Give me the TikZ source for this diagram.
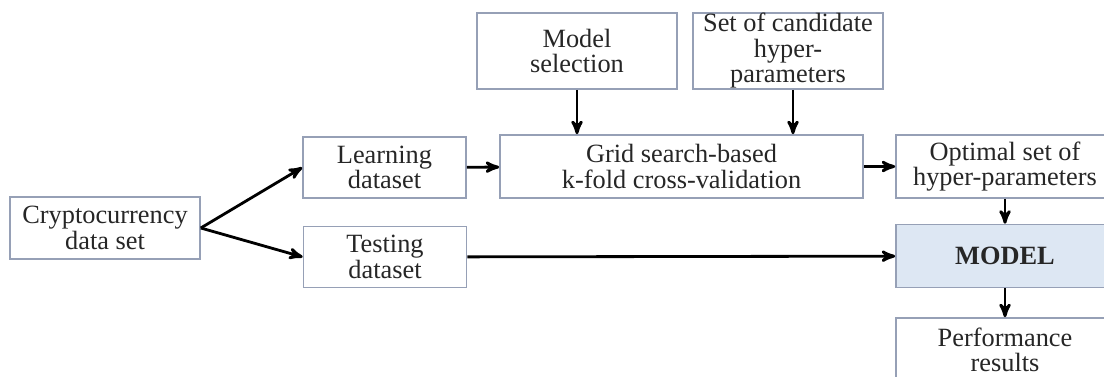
\documentclass[tikz,border=0pt]{standalone}
\usepackage{fontspec}
\setmainfont{Liberation Serif}
\usepackage{tikz}
\usetikzlibrary{arrows}
\definecolor{boxline}{RGB}{150,160,182}
\definecolor{modelblue}{RGB}{221,231,243}
\tikzset{
  flownode/.style = {rectangle, draw=boxline, line width=0.9pt, align=center,
    inner sep=0pt, text=black!85, font=\fontsize{15}{14.5}\selectfont},
  flow_s/.style = {flownode, minimum width=163*0.02cm, minimum height=61*0.02cm},% petite boite
  flow_w/.style = {flownode, minimum width=218*0.02cm, minimum height=63*0.02cm},% boite de droite
  flow_m/.style = {flow_w, fill=modelblue, font=\fontsize{15}{14.5}\selectfont\bfseries},% modele
}
\begin{document}
\begin{tikzpicture}[x=0.02cm,y=-0.02cm,->,>=stealth',line width=1.6pt]
  \useasboundingbox (0,0) rectangle (1104,377);

  \node[flownode, minimum width=190*0.02cm, minimum height=62*0.02cm] (crypto) at (105,228) {Cryptocurrency\\data set};
  \node[flow_s] (learn) at (384.5,167.5) {Learning\\dataset};
  \node[flow_s] (test) at (385,257) {Testing\\dataset};

  \node[flownode, minimum width=200*0.02cm, minimum height=76*0.02cm] (msel) at (577,51) {Model\\selection};
  \node[flownode, minimum width=190*0.02cm, minimum height=76*0.02cm] (cand) at (788,51) {Set of candidate\\hyper-\\parameters};
  \node[flownode, minimum width=363*0.02cm, minimum height=63*0.02cm] (grid) at (681.5,166.5) {Grid search-based\\k-fold cross-validation};

  \node[flow_w] (optim) at (1005,166.5) {Optimal set of\\hyper-parameters};
  \node[flow_m] (model) at (1005,256) {MODEL};
  \node[flow_w, minimum height=64*0.02cm] (perf) at (1005,350) {Performance\\results};

  % split of the data
  \draw (crypto.east) -- (learn.west);
  \draw (crypto.east) -- (test.west);
  % tuning
  \draw (learn) -- (grid);
  \draw (msel.south) -- (msel.south |- grid.north);
  \draw ([xshift=5*0.02cm]cand.south) -- ([xshift=5*0.02cm]cand.south |- grid.north);
  \draw (grid) -- (optim);
  % final model
  \draw (optim) -- (model);
  \draw (test) -- (model);
  \draw (model) -- (perf);
\end{tikzpicture}
\end{document}
